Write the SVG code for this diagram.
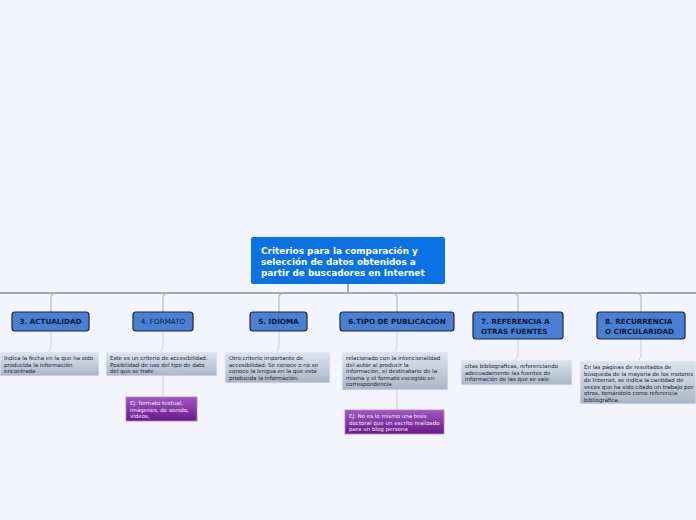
<svg xmlns="http://www.w3.org/2000/svg" width="696" height="520" viewBox="0 0 696 520">
<defs>
<linearGradient id="gsub" x1="0" y1="0" x2="0" y2="1">
<stop offset="0" stop-color="#dde4ef"/>
<stop offset="1" stop-color="#a9b6c8"/>
</linearGradient>
<linearGradient id="gpur" x1="0" y1="0" x2="0" y2="1">
<stop offset="0" stop-color="#a058bf"/>
<stop offset="1" stop-color="#6a1888"/>
</linearGradient>
<style>
.node{fill:#4a80d4;stroke:#1c2638;stroke-width:1.2}
.lbl{font-family:"DejaVu Sans",Verdana,sans-serif;font-size:7.2px;font-weight:bold;fill:#0c1a30;text-anchor:middle}
.lbl2{font-family:"DejaVu Sans",Verdana,sans-serif;font-size:7.2px;font-weight:bold;fill:#0c1a30;text-anchor:start}
.sub{fill:url(#gsub);stroke:#e8eef7;stroke-width:0.8}
.st{font-family:"DejaVu Sans",Verdana,sans-serif;font-size:5.5px;fill:#1c2433}
.pur{fill:url(#gpur);stroke:#b77ed0;stroke-width:0.8}
.pt{font-family:"DejaVu Sans",Verdana,sans-serif;font-size:5.5px;fill:#f4e8fa}
.main{stroke:#a9a9a9;stroke-width:2;fill:none}
.br{stroke:#bdbdbd;stroke-width:1.3;fill:none}
.lt{stroke:#d6d9e0;stroke-width:1.3;fill:none}
</style>
</defs>
<rect width="696" height="520" fill="#f2f5fd"/>
<g id="connectors">
<path class="main" d="M0 293 H696 M348 284 V293"/>
<path class="br" d="M51 312 V297 Q51 294 54 294"/>
<path class="br" d="M163 312 V297 Q163 294 166 294"/>
<path class="br" d="M279 312 V297 Q279 294 282 294"/>
<path class="br" d="M397 312 V297 Q397 294 394 294"/>
<path class="br" d="M518 312 V297 Q518 294 515 294"/>
<path class="br" d="M641 312 V297 Q641 294 638 294"/>
<path class="lt" d="M51 331 V346 Q51 349 49 350 V352"/>
<path class="lt" d="M163 331 V346 Q163 349 161 350 V352"/>
<path class="lt" d="M279 331 V346 Q279 349 277 350 V352"/>
<path class="lt" d="M397 331 V346 Q397 349 395 350 V352"/>
<path class="lt" d="M518 339 V354 Q518 357 516 358 V360"/>
<path class="lt" d="M641 339 V355 Q641 358 639 359 V361"/>
<path class="lt" d="M163 376 V397"/>
<path class="lt" d="M397 390 V410"/>
</g>
<g id="central">
<rect x="251" y="237" width="194" height="47" rx="2" fill="#0a72e3"/>
<text font-family="DejaVu Sans,Verdana,sans-serif" font-size="8.9" font-weight="bold" fill="#ffffff">
<tspan x="261" y="253.5">Criterios para la comparación y</tspan>
<tspan x="261" y="264.5">selección de datos obtenidos a</tspan>
<tspan x="261" y="275.5">partir de buscadores en Internet</tspan>
</text>
</g>
<g id="n3">
<rect class="node" x="12" y="312" width="77" height="19" rx="3"/>
<text class="lbl" x="50.5" y="324.3">3. ACTUALIDAD</text>
</g>
<g id="n4">
<rect class="node" x="133" y="312" width="60" height="19" rx="3"/>
<text class="lbl" x="163" y="324.3" font-weight="normal" style="font-weight:normal">4. FORMATO</text>
</g>
<g id="n5">
<rect class="node" x="250" y="312" width="57" height="19" rx="3"/>
<text class="lbl" x="278.5" y="324.3">5. IDIOMA</text>
</g>
<g id="n6">
<rect class="node" x="340" y="312" width="114" height="19" rx="3"/>
<text class="lbl" x="397" y="324.3">6.TIPO DE PUBLICACIÓN</text>
</g>
<g id="n7">
<rect class="node" x="473" y="312" width="90" height="27" rx="3"/>
<text class="lbl2"><tspan x="481" y="324">7. REFERENCIA A</tspan><tspan x="481" y="333.5">OTRAS FUENTES</tspan></text>
</g>
<g id="n8">
<rect class="node" x="597" y="312" width="88" height="27" rx="3"/>
<text class="lbl2"><tspan x="605" y="324">8. RECURRENCIA</tspan><tspan x="605" y="333.5">O CIRCULARIDAD</tspan></text>
</g>
<g id="s3">
<rect class="sub" x="0" y="352" width="99" height="24"/>
<text class="st"><tspan x="4" y="360">Indica la fecha en la que ha sido</tspan><tspan x="4" y="366.5">producida la información</tspan><tspan x="4" y="373">encontrada</tspan></text>
</g>
<g id="s4">
<rect class="sub" x="106" y="352" width="111" height="24"/>
<text class="st"><tspan x="110" y="360">Este es un criterio de accesibilidad.</tspan><tspan x="110" y="366.5">Posibilidad de uso del tipo de dato</tspan><tspan x="110" y="373">del que se trate</tspan></text>
</g>
<g id="s5">
<rect class="sub" x="225" y="352" width="105" height="31"/>
<text class="st"><tspan x="229" y="360">Otro criterio importante de</tspan><tspan x="229" y="366.5">accesibilidad. Se conoce o no se</tspan><tspan x="229" y="373">conoce la lengua en la que está</tspan><tspan x="229" y="379.5">producida la información.</tspan></text>
</g>
<g id="s6">
<rect class="sub" x="342" y="352" width="106" height="38"/>
<text class="st"><tspan x="346" y="360">relacionado con la intencionalidad</tspan><tspan x="346" y="366.5">del autor al producir la</tspan><tspan x="346" y="373">información, el destinatario de la</tspan><tspan x="346" y="379.5">misma y el formato escogido en</tspan><tspan x="346" y="386">correspondencia</tspan></text>
</g>
<g id="s7">
<rect class="sub" x="461" y="360" width="111" height="25"/>
<text class="st"><tspan x="465" y="368">citas bibliográficas, referenciando</tspan><tspan x="465" y="374.5">adecuadamente las fuentes de</tspan><tspan x="465" y="381">información de las que se vale</tspan></text>
</g>
<g id="s8">
<rect class="sub" x="580" y="361" width="116" height="43"/>
<text class="st"><tspan x="584" y="369">En las páginas de resultados de</tspan><tspan x="584" y="375.5">búsqueda de la mayoría de los motores</tspan><tspan x="584" y="382">de Internet, se indica la cantidad de</tspan><tspan x="584" y="388.5">veces que ha sido citado un trabajo por</tspan><tspan x="584" y="395">otros, tomándolo como referencia</tspan><tspan x="584" y="401.5">bibliográfica.</tspan></text>
</g>
<g id="p4">
<rect class="pur" x="126" y="397" width="71" height="24"/>
<text class="pt"><tspan x="130" y="405">Ej: formato textual,</tspan><tspan x="130" y="411.5">imágenes, de sonido,</tspan><tspan x="130" y="418">videos,</tspan></text>
</g>
<g id="p6">
<rect class="pur" x="345" y="410" width="99" height="24"/>
<text class="pt"><tspan x="349" y="418">Ej:  No es lo mismo una tesis</tspan><tspan x="349" y="424.5">doctoral que un escrito realizado</tspan><tspan x="349" y="431">para un blog persona</tspan></text>
</g>
</svg>
